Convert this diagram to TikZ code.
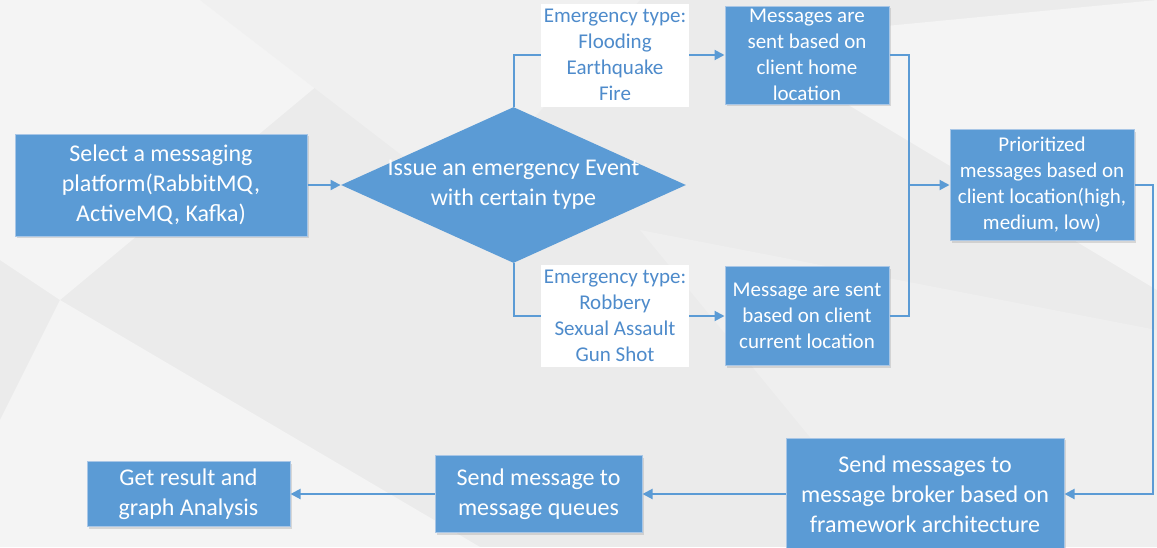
\documentclass[tikz,border=0pt]{standalone}
\usepackage{fontspec}
\setmainfont{Carlito}
\usetikzlibrary{shapes.geometric,arrows.meta,shadows}
\definecolor{boxblue}{HTML}{5B9BD5}
\definecolor{boxedge}{HTML}{A8C6E6}
\definecolor{labelblue}{HTML}{4E8BCB}
\definecolor{bggray}{HTML}{EBEBEB}
\definecolor{bglight}{HTML}{F4F4F4}
\begin{document}
\begin{tikzpicture}[x=0.5pt, y=-0.5pt,
  box/.style={rectangle, fill=boxblue, draw=boxedge, line width=0.5pt, text=white,
    align=center, inner sep=1pt, drop shadow={opacity=0.25, shadow xshift=1pt, shadow yshift=-1pt}},
  big/.style={font=\fontsize{12}{15}\selectfont},
  small/.style={font=\fontsize{10.5}{13}\selectfont},
  decision/.style={diamond, fill=boxblue, inner sep=0pt},
  typelabel/.style={rectangle, fill=white, text=labelblue, align=center, inner sep=0pt, small},
  link/.style={draw=boxblue, line width=1pt},
  arrow/.style={link, -{Triangle[length=5pt, width=5pt]}}]
  % Hintergrund
  \useasboundingbox (0,0) rectangle (1157,547);
  \fill[bggray] (0,0) rectangle (1157,547);
  \fill[bglight] (0,0) -- (420,0) -- (60,300) -- (0,260) -- cycle;
  \fill[bglight] (60,300) -- (480,547) -- (0,547) -- (0,420) -- cycle;
  \fill[bglight] (740,40) -- (1157,0) -- (1157,290) -- cycle;
  \fill[bglight!60!bggray] (200,0) -- (640,0) -- (460,200) -- cycle;
  \fill[bglight!50!bggray] (640,230) -- (1157,330) -- (1157,547) -- (900,547) -- cycle;

  % Ablauf oben
  \node[box, big, minimum width=146pt, minimum height=51pt] (select) at (161,185)
    {Select a messaging\\platform(RabbitMQ,\\ActiveMQ, Kafka)};
  \node[decision, minimum width=172.5pt, minimum height=78pt,
    label={[big, text=white, align=center]center:Issue an emergency Event\\with certain type}] (issue) at (513.5,185) {};
  \node[typelabel, minimum width=74pt, minimum height=51.5pt] (natural) at (615,55)
    {Emergency type:\\Flooding\\Earthquake\\Fire};
  \node[typelabel, minimum width=74pt, minimum height=51pt] (crime) at (615,316)
    {Emergency type:\\Robbery\\Sexual Assault\\Gun Shot};
  \node[box, small, minimum width=82pt, minimum height=49pt] (home) at (807,55)
    {Messages are\\sent based on\\client home\\location};
  \node[box, small, minimum width=82pt, minimum height=49.5pt] (current) at (807,316)
    {Message are sent\\based on client\\current location};
  \node[box, small, minimum width=92pt, minimum height=55.5pt] (prio) at (1042,185)
    {Prioritized\\messages based on\\client location(high,\\medium, low)};

  % Ablauf unten
  \node[box, big, minimum width=139pt, minimum height=56pt] (broker) at (925,494)
    {Send messages to\\message broker based on\\framework architecture};
  \node[box, big, minimum width=103.5pt, minimum height=38.5pt] (queues) at (538.5,494)
    {Send message to\\message queues};
  \node[box, big, minimum width=101.5pt, minimum height=32.5pt] (result) at (188.5,494)
    {Get result and\\graph Analysis};

  \coordinate (merge) at (909,185);
  \coordinate (corner) at (1153,494);

  % Verbindungen
  \draw[arrow] (select.east) -- (issue.west);
  \draw[link] (issue.north) |- (natural.west);
  \draw[arrow] (natural.east) -- (home.west);
  \draw[link] (issue.south) |- (crime.west);
  \draw[arrow] (crime.east) -- (current.west);
  \draw[link] (home.east) -| (merge);
  \draw[link] (current.east) -| (merge);
  \draw[arrow] (merge) -- (prio.west);
  \draw[arrow] (prio.east) -| (corner) -- (broker.east);
  \draw[arrow] (broker.west) -- (queues.east);
  \draw[arrow] (queues.west) -- (result.east);
\end{tikzpicture}
\end{document}
